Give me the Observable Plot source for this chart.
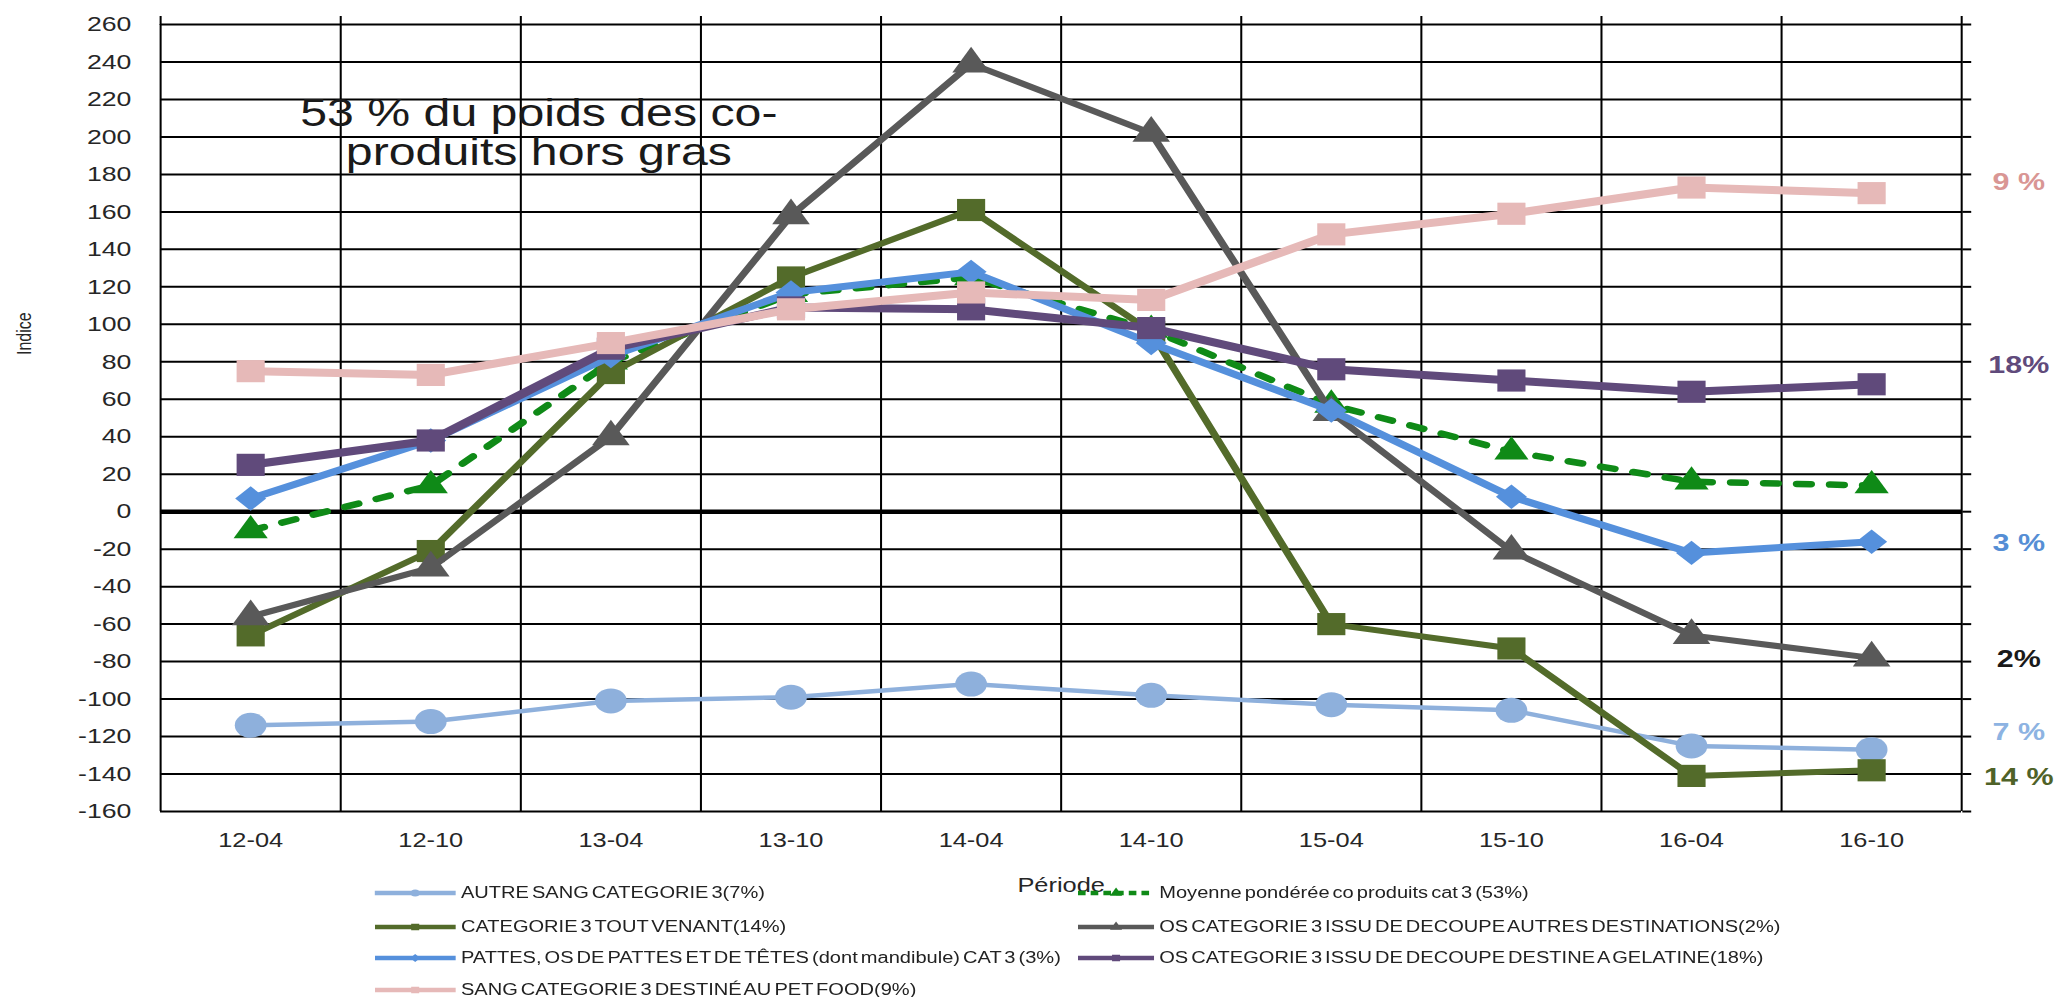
<!DOCTYPE html>
<html><head><meta charset="utf-8">
<script src="https://cdn.jsdelivr.net/npm/d3@7"></script>
<script src="https://cdn.jsdelivr.net/npm/@observablehq/plot@0.6"></script>
<style>
html,body{margin:0;padding:0;background:#fff;overflow:hidden;}
#wrap{position:relative;width:1624px;height:997px;transform:scaleX(1.2697);transform-origin:0 0;font-family:"Liberation Sans",Arial,sans-serif;}
#chart svg{display:block;}
.leg{position:absolute;display:flex;align-items:center;height:20px;font-size:15.8px;word-spacing:-2px;color:#222;white-space:nowrap;}
.leg svg{margin-right:4px;display:block;}
</style></head>
<body><div id="wrap"><div id="chart"></div><div id="legend"></div></div>
<script>
// ---- data ----
const periods = ["12-04","12-10","13-04","13-10","14-04","14-10","15-04","15-10","16-04","16-10"];
const yTickValues = [-160,-140,-120,-100,-80,-60,-40,-20,0,20,40,60,80,100,120,140,160,180,200,220,240,260];

const autreSang   = [-114, -112, -101, -99, -92, -98, -103, -106, -125, -127];
const moyenne     = [-10, 14, 80, 116, 125, 97, 57, 32, 16, 14];
const toutVenant  = [-66, -21, 74, 125, 161, 96, -60, -73, -141, -138];
const osAutres    = [-56, -30, 40, 158, 239, 202, 53, -21, -66, -78];
const pattes      = [7, 38, 83, 117, 128, 90, 54, 8, -22, -16];
const osGelatine  = [25, 38, 87, 109, 108, 98, 76, 70, 64, 68];
const sangPetFood = [75, 73, 90, 108, 117, 113, 148, 159, 173, 170];

const seriesNames = [
  "AUTRE SANG CATEGORIE 3(7%)",
  "Moyenne pondérée co produits cat 3 (53%)",
  "CATEGORIE 3 TOUT VENANT(14%)",
  "OS CATEGORIE 3 ISSU DE DECOUPE AUTRES DESTINATIONS(2%)",
  "PATTES, OS DE PATTES ET DE TÊTES (dont mandibule) CAT 3 (3%)",
  "OS CATEGORIE 3 ISSU DE DECOUPE DESTINE A GELATINE(18%)",
  "SANG CATEGORIE 3 DESTINÉ AU PET FOOD(9%)"
];

const shareLabels = ["9 %", "18%", "3 %", "2%", "7 %", "14 %"];
const shareLabelY = [176, 78, -17, -79, -118, -142];

const annotation = "53 % du poids des co-\nproduits hors gras";

// ---- styles (library options) ----
const series = [
  {name: seriesNames[0], values: autreSang,   color: "#8eb0dc", width: 4.5, symbol: "circle",   r: 12.5},
  {name: seriesNames[1], values: moyenne,     color: "#0f8a17", width: 6.5, symbol: "triangle", r: 10, dash: "11,15"},
  {name: seriesNames[2], values: toutVenant,  color: "#536b2a", width: 6,   symbol: "square",   r: 12.5},
  {name: seriesNames[3], values: osAutres,    color: "#595959", width: 6,   symbol: "triangle", r: 11},
  {name: seriesNames[4], values: pattes,      color: "#5590dc", width: 7,   symbol: "diamond2", r: 11},
  {name: seriesNames[5], values: osGelatine,  color: "#604a7b", width: 8,   symbol: "square",   r: 12.5},
  {name: seriesNames[6], values: sangPetFood, color: "#e6b9b8", width: 8,   symbol: "square",   r: 12.5}
];
const shareColors = ["#d99694", "#604a7b", "#558ed5", "#1a1a1a", "#8db3e2", "#4f6228"];
const shareRows = shareLabels.map((t, i) => ({t, y: shareLabelY[i], c: shareColors[i]}));

const idx = periods.map((_, i) => i);
const bounds = idx.map(i => i - 0.5).concat([periods.length - 0.5]);

const marks = [
  Plot.gridY({ticks: yTickValues, stroke: "#000", strokeOpacity: 1, strokeWidth: 2}),
  Plot.gridX({ticks: bounds, stroke: "#000", strokeOpacity: 1, strokeWidth: 1.6}),
  Plot.axisY({ticks: yTickValues, tickSize: 0, tickPadding: 23, label: null, tickFormat: d => String(d), fill: "#262626", fontSize: 21}),
  Plot.axisY({anchor: "right", ticks: yTickValues, tickSize: 7, tickFormat: () => "", label: null, stroke: "#000", strokeWidth: 2}),
  Plot.axisX({anchor: "top", ticks: bounds, tickSize: 9, tickFormat: () => "", label: null, stroke: "#000", strokeWidth: 1.6}),
  Plot.axisX({ticks: idx, tickSize: 0, tickPadding: 21, tickFormat: i => periods[i], fill: "#262626",
              label: "Période", labelAnchor: "center", labelOffset: 80, labelArrow: "none"}),
  Plot.ruleY([0], {stroke: "#000", strokeWidth: 4.5}),
  Plot.text([annotation], {x: () => 1.6, y: () => 202, fontSize: 38, lineHeight: 1.03, fill: "#1a1a1a"}),
  Plot.text(["Indice"], {y: () => 95, frameAnchor: "left", textAnchor: "middle", dx: -107, rotate: -90, fontSize: 16, fill: "#262626"}),
  Plot.text(shareRows, {y: "y", text: "t", fill: "c", frameAnchor: "right", textAnchor: "middle", dx: 45, fontSize: 24, fontWeight: "bold"})
];
for (const s of series) {
  const rows = s.values.map((v, i) => ({i, v}));
  marks.push(Plot.line(rows, {x: "i", y: "v", stroke: s.color, strokeWidth: s.width,
    strokeDasharray: s.dash, strokeLinecap: s.dash ? "round" : "butt", strokeLinejoin: "round"}));
  marks.push(Plot.dot(rows, {x: "i", y: "v", symbol: s.symbol, r: s.r, fill: s.color, stroke: "none"}));
}

const chart = Plot.plot({
  width: 1624, height: 900,
  marginLeft: 126, marginRight: 79.5, marginTop: 24, marginBottom: 89,
  style: {fontFamily: '"Liberation Sans", Arial, sans-serif', fontSize: "20px", color: "#262626", background: "white", overflow: "visible"},
  x: {domain: [-0.5, 9.5]},
  y: {domain: [-160, 260]},
  marks
});
document.getElementById("chart").appendChild(chart);

// ---- legend (HTML, below the chart) ----
const legend = document.getElementById("legend");
const layout = [
  {s: 0, left: 295, w: 64, top: 893}, {s: 2, left: 295, w: 64, top: 927},
  {s: 4, left: 295, w: 64, top: 958}, {s: 6, left: 295, w: 64, top: 990},
  {s: 1, left: 849, w: 60, top: 893}, {s: 3, left: 849, w: 60, top: 927},
  {s: 5, left: 849, w: 60, top: 958}
];
for (const L of layout) {
  const s = series[L.s];
  const div = document.createElement("div");
  div.className = "leg";
  div.style.left = L.left + "px";
  div.style.top = (L.top - 10) + "px";
  const sym = d3.symbol().type({circle: d3.symbolCircle, square: d3.symbolSquare, triangle: d3.symbolTriangle, diamond2: d3.symbolDiamond2}[s.symbol]).size(40)();
  div.innerHTML = `<svg width="${L.w}" height="14"><line x1="0" x2="${L.w}" y1="7" y2="7" stroke="${s.color}" stroke-width="4.5" ${s.dash ? 'stroke-dasharray="6,4"' : ""}/><path d="${sym}" transform="translate(${L.w/2},7)" fill="${s.color}"/></svg><span>${s.name}</span>`;
  legend.appendChild(div);
}
</script></body></html>
